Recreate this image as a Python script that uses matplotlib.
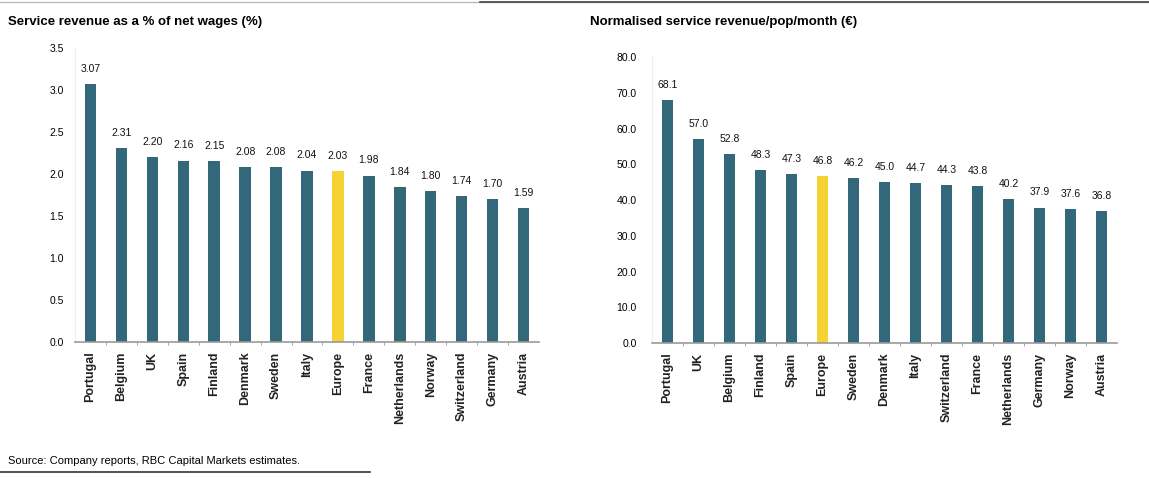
import matplotlib.pyplot as plt
from matplotlib.lines import Line2D

plt.rcParams['font.family'] = ['Liberation Sans Narrow', 'Liberation Sans', 'DejaVu Sans']

# left panel: service revenue as % of net wages
wage_countries = ['Portugal', 'Belgium', 'UK', 'Spain', 'Finland', 'Denmark', 'Sweden', 'Italy',
                  'Europe', 'France', 'Netherlands', 'Norway', 'Switzerland', 'Germany', 'Austria']
wage_share = [3.07, 2.31, 2.20, 2.16, 2.15, 2.08, 2.08, 2.04, 2.03, 1.98, 1.84, 1.80, 1.74, 1.70, 1.59]
wage_ticks = [0.0, 0.5, 1.0, 1.5, 2.0, 2.5, 3.0, 3.5]

# right panel: normalised service revenue per pop per month
pop_countries = ['Portugal', 'UK', 'Belgium', 'Finland', 'Spain', 'Europe', 'Sweden', 'Denmark',
                 'Italy', 'Switzerland', 'France', 'Netherlands', 'Germany', 'Norway', 'Austria']
pop_revenue = [68.1, 57.0, 52.8, 48.3, 47.3, 46.8, 46.2, 45.0, 44.7, 44.3, 43.8, 40.2, 37.9, 37.6, 36.8]
pop_ticks = [0, 10, 20, 30, 40, 50, 60, 70, 80]

TEAL = '#33687b'
YELLOW = '#f5d335'

W, H = 1149, 478
fig = plt.figure(figsize=(W / 100, H / 100), dpi=100)


def panel(rect, names, values, ticks, fmt, tickfmt, title, title_x, ypad):
    ax = fig.add_axes([rect[0] / W, 1 - rect[3] / H, (rect[2] - rect[0]) / W, (rect[3] - rect[1]) / H])
    colors = [YELLOW if n == 'Europe' else TEAL for n in names]
    x = range(len(names))
    bars = ax.bar(x, values, width=0.37, color=colors)
    for b, v in zip(bars, values):
        ax.text(b.get_x() + b.get_width() / 2, v + ticks[-1] * 0.035, fmt.format(v),
                ha='center', va='bottom', fontsize=7.5, color='#111111')
    ax.set_xlim(-0.5, len(names) - 0.5)
    ax.set_ylim(ticks[0], ticks[-1])
    ax.set_yticks(ticks)
    ax.set_yticklabels([tickfmt.format(t) for t in ticks], fontsize=7.5)
    ax.set_xticks([i + 0.5 for i in range(len(names) - 1)], minor=True)
    ax.set_xticks(list(x))
    ax.set_xticklabels(names, rotation=90, fontsize=9, fontweight='bold', color='#222222')
    ax.tick_params(axis='x', which='major', length=0, pad=7)
    ax.tick_params(axis='x', which='minor', length=2, color='#999999')
    ax.tick_params(axis='y', length=0, pad=ypad)
    for s in ['top', 'right']:
        ax.spines[s].set_visible(False)
    ax.spines['left'].set_color('#eeeeee')
    ax.spines['bottom'].set_color('#999999')
    ax.spines['bottom'].set_linewidth(1.2)
    fig.text(title_x / W, 1 - 22 / H, title, fontsize=9.5, fontweight='bold', va='center', ha='left')
    return ax


panel((75, 48, 539, 342), wage_countries, wage_share, wage_ticks, '{:.2f}', '{:.1f}',
      'Service revenue as a % of net wages (%)', 8, 8)
panel((652, 57, 1117, 343), pop_countries, pop_revenue, pop_ticks, '{:.1f}', '{:.1f}',
      'Normalised service revenue/pop/month (€)', 590, 11)

fig.text(8 / W, 1 - 461 / H, 'Source: Company reports, RBC Capital Markets estimates.',
         fontsize=8, va='center', ha='left')

# rule lines at the top and bottom of the exhibit
fig.add_artist(Line2D([0, 1], [1 - 2 / H] * 2, color='#bbbbbb', lw=1))
fig.add_artist(Line2D([480 / W, 1], [1 - 2 / H] * 2, color='#444444', lw=1.2))
fig.add_artist(Line2D([0, 370 / W], [1 - 472 / H] * 2, color='#333333', lw=1.2))

fig.savefig('out.png', dpi=100)
